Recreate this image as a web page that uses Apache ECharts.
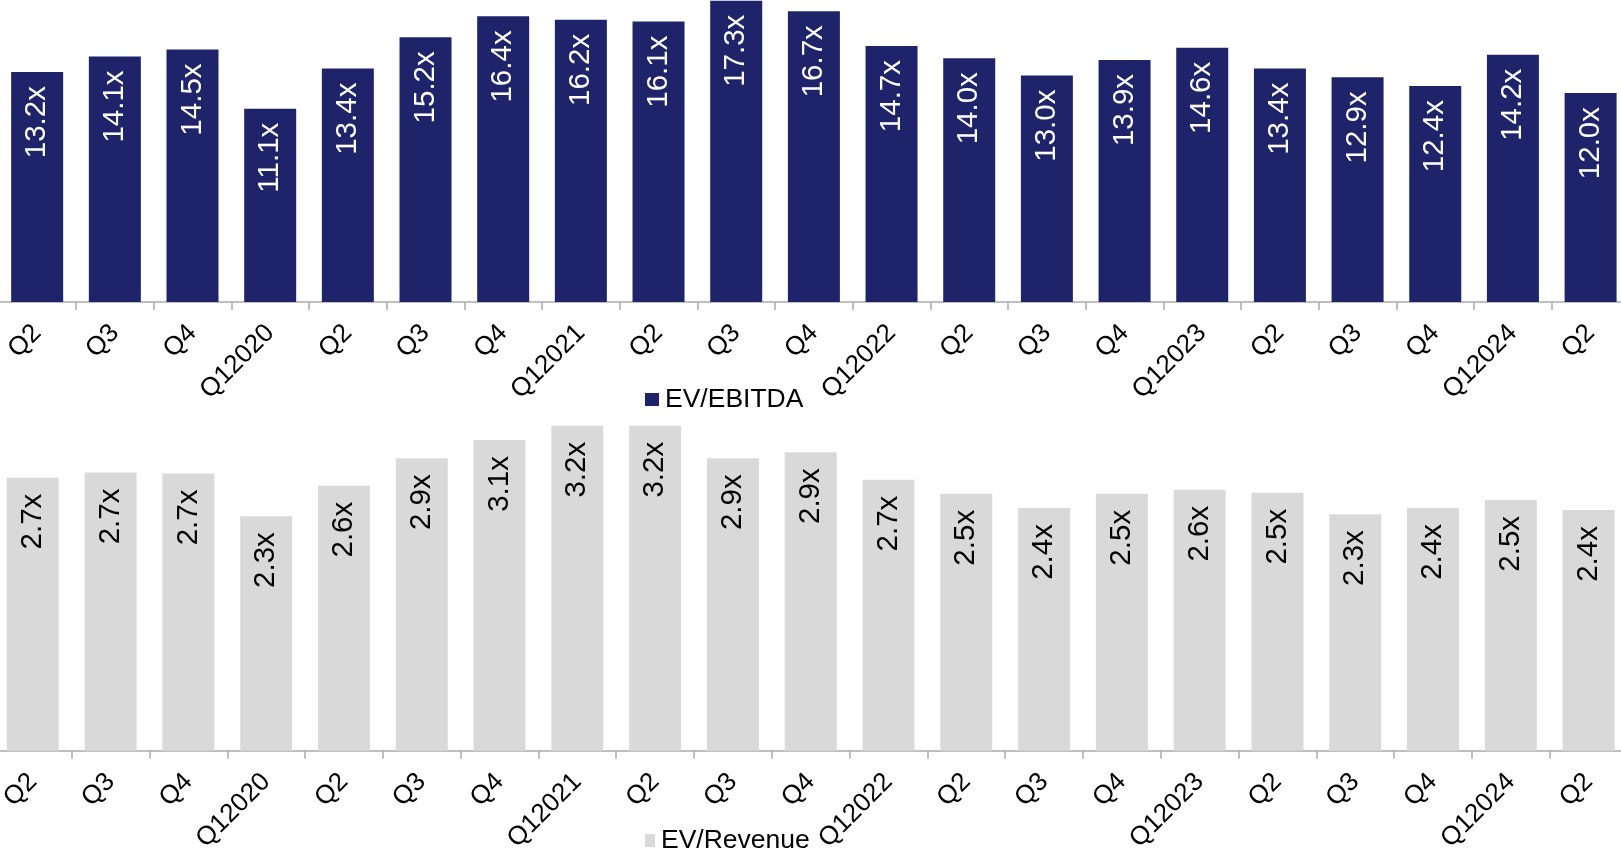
<!DOCTYPE html>
<html>
<head>
<meta charset="utf-8">
<script src="https://cdn.jsdelivr.net/npm/echarts@6/dist/echarts.min.js"></script>
<style>
html,body{margin:0;padding:0;background:#fff;overflow:hidden;width:1621px;height:855px;position:relative;}
#chart{position:absolute;left:-10px;top:0;width:1650px;height:855px;}
</style>
</head>
<body>
<div id="chart"></div>
<script>
const categories = ['Q2','Q3','Q4','Q12020','Q2','Q3','Q4','Q12021','Q2','Q3','Q4','Q12022','Q2','Q3','Q4','Q12023','Q2','Q3','Q4','Q12024','Q2'];
const evEbitda = [13.2,14.1,14.5,11.1,13.4,15.2,16.4,16.2,16.1,17.3,16.7,14.7,14.0,13.0,13.9,14.6,13.4,12.9,12.4,14.2,12.0];
const evRevenue = [2.69,2.74,2.73,2.31,2.61,2.88,3.06,3.20,3.20,2.88,2.94,2.67,2.53,2.39,2.53,2.57,2.54,2.33,2.39,2.47,2.37];

const FONT = "'Liberation Sans', Arial, sans-serif";
const NAVY = '#1F246A';
const GRAY = '#D9D9D9';
const AXIS = '#ABABAB';
const OFFSET = 10; // container is shifted left by this many px

function xAxisFor(gridIndex){
  return {
    type:'category', gridIndex, data:categories,
    axisLine:{show:true, lineStyle:{color:AXIS, width:1.5}},
    axisTick:{show:true, alignWithLabel:false, length:8, lineStyle:{color:AXIS, width:1.5}},
    axisLabel:{rotate:45, interval:0, margin:27, color:'#000', fontSize:26, fontFamily:FONT}
  };
}
function yAxisFor(gridIndex, max){
  return {type:'value', gridIndex, min:0, max, show:false, splitLine:{show:false}};
}

const chart = echarts.init(document.getElementById('chart'), null, {renderer:'canvas'});
chart.setOption({
  animation:false,
  backgroundColor:'#fff',
  grid:[
    {left:OFFSET-1.67, width:1631.1, top:0, height:302},
    {left:OFFSET-6.1, width:1633.6, top:395.4, height:355.3}
  ],
  legend:[
    {data:['EV/EBITDA'], left:OFFSET+645, top:386, padding:0, icon:'rect', itemWidth:14, itemHeight:13, itemGap:10,
     textStyle:{fontSize:26.5, color:'#000', fontFamily:FONT, padding:[0,0,0,1]}},
    {data:['EV/Revenue'], left:OFFSET+645, top:827, padding:0, icon:'rect', itemWidth:10, itemHeight:13, itemGap:10,
     textStyle:{fontSize:26.5, color:'#000', fontFamily:FONT, padding:[0,0,0,1]}}
  ],
  xAxis:[xAxisFor(0), xAxisFor(1)],
  yAxis:[yAxisFor(0, 17.34), yAxisFor(1, 3.5)],
  series:[
    {name:'EV/EBITDA', type:'bar', xAxisIndex:0, yAxisIndex:0, data:evEbitda, barWidth:52,
     itemStyle:{color:NAVY},
     label:{show:true, position:'insideTop', distance:14, rotate:90, align:'right', verticalAlign:'middle',
       color:'#fff', fontSize:29.5, fontFamily:FONT, formatter:p=>p.value.toFixed(1)+'x'}},
    {name:'EV/Revenue', type:'bar', xAxisIndex:1, yAxisIndex:1, data:evRevenue, barWidth:52,
     itemStyle:{color:GRAY},
     label:{show:true, position:'insideTop', distance:16, rotate:90, align:'right', verticalAlign:'middle',
       color:'#000', fontSize:29.5, fontFamily:FONT, formatter:p=>p.value.toFixed(1)+'x'}}
  ]
});
</script>
</body>
</html>
